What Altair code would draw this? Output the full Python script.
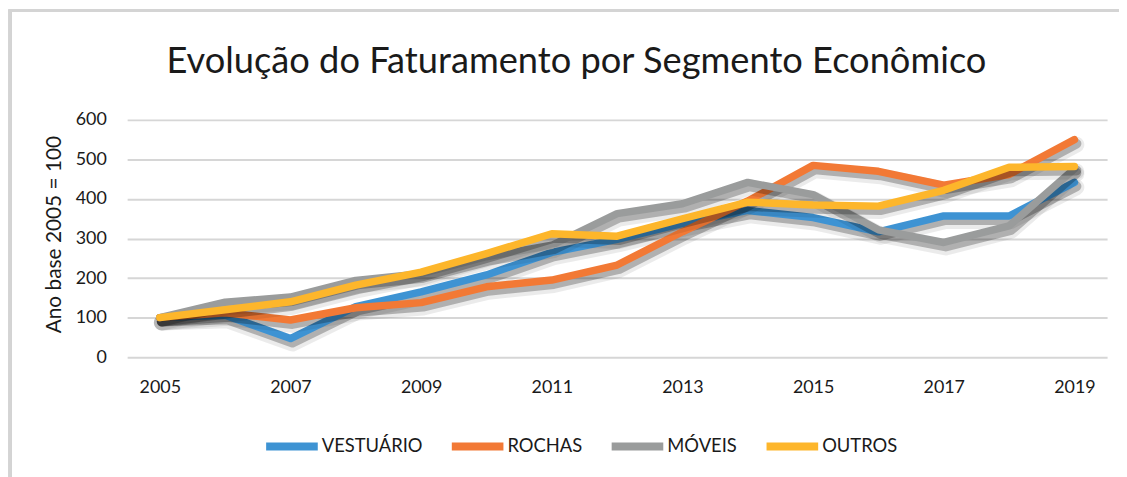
import altair as alt
import pandas as pd

years = [str(y) for y in range(2005, 2020)]
series_names = ["VESTUÁRIO", "ROCHAS", "MÓVEIS", "OUTROS"]
vestuario = [100, 106, 47, 128, 165, 208, 265, 298, 338, 371, 353, 317, 357, 357, 442]
rochas = [100, 112, 94, 125, 138, 178, 195, 233, 317, 395, 485, 470, 435, 462, 550]
moveis = [100, 139, 152, 194, 211, 254, 283, 363, 388, 442, 411, 322, 290, 332, 476]
outros = [100, 120, 140, 182, 215, 262, 312, 306, 350, 392, 385, 382, 422, 480, 482]
colors = ["#3E93D3", "#F27935", "#9A9C9C", "#FDB62B"]
label_years = ["2005", "2007", "2009", "2011", "2013", "2015", "2017", "2019"]
y_ticks = [0, 100, 200, 300, 400, 500, 600]

rows = []
for name, vals in zip(series_names, [vestuario, rochas, moveis, outros]):
    for yr, v in zip(years, vals):
        rows.append({"Ano": yr, "Valor": v, "Segmento": name})
df = pd.DataFrame(rows)

FONT = "Lato"

x_enc = alt.X("Ano:O", sort=years,
              scale=alt.Scale(type="point", padding=0.5),
              axis=alt.Axis(values=label_years, labelAngle=0, ticks=False, domain=False,
                            grid=False, labelFont=FONT, labelFontSize=18, labelColor="#1a1a1a",
                            labelPadding=22, title=None))
y_enc = alt.Y("Valor:Q", scale=alt.Scale(domain=[0, 600], nice=False),
              axis=alt.Axis(values=y_ticks, ticks=False, domain=False, grid=True,
                            gridColor="#d6d6d6", gridWidth=2,
                            labelFont=FONT, labelFontSize=18, labelColor="#1a1a1a",
                            labelPadding=21,
                            title="Ano base 2005 = 100", titleFont=FONT, titleFontSize=21,
                            titleFontWeight="normal", titleColor="#1a1a1a",
                            titleAngle=270, titleX=-73, titleY=115,
                            titleAlign="center", titleBaseline="middle"))

color_enc = alt.Color("Segmento:N",
                      scale=alt.Scale(domain=series_names, range=colors),
                      sort=series_names,
                      legend=alt.Legend(title=None, orient="none", direction="horizontal",
                                        legendX=136, legendY=299,
                                        symbolType="stroke", symbolSize=2704,
                                        symbolStrokeWidth=8, labelFont=FONT,
                                        labelFontSize=18.5, labelColor="#1a1a1a",
                                        labelOffset=0, columnPadding=13, padding=0))

frame = alt.Chart(df).mark_rect(fill=None, stroke="#d4d4d4", strokeWidth=2.5).encode(
    x=alt.value(-118), x2=alt.value(1200), y=alt.value(-110), y2=alt.value(600)
)

layers = [frame]
for name in series_names:
    base = alt.Chart(df).transform_filter(alt.datum.Segmento == name)
    shadow1 = base.mark_line(color="black", opacity=0.08, strokeWidth=16,
                             strokeCap="round", strokeJoin="round",
                             xOffset=2, yOffset=5).encode(x=x_enc, y=y_enc)
    shadow2 = base.mark_line(color="black", opacity=0.25, strokeWidth=10,
                             strokeCap="round", strokeJoin="round",
                             xOffset=2, yOffset=4).encode(x=x_enc, y=y_enc)
    line = base.mark_line(strokeWidth=7.5, strokeCap="round", strokeJoin="round").encode(
        x=x_enc, y=y_enc, color=color_enc)
    layers += [shadow1, shadow2, line]

chart = alt.layer(*layers).properties(
    width=987, height=239,
    padding={"left": 120, "top": 111, "right": 12, "bottom": 119},
    autosize=alt.AutoSizeParams(type="none"),
    title=alt.TitleParams("Evolução do Faturamento por Segmento Econômico",
                          font=FONT, fontSize=36.5, fontWeight="normal", color="#1a1a1a",
                          anchor="middle", frame="group", dx=-41, dy=72, offset=0),
).configure_view(stroke=None)

chart.save("out.html", embed_options={"renderer": "svg", "actions": False})
